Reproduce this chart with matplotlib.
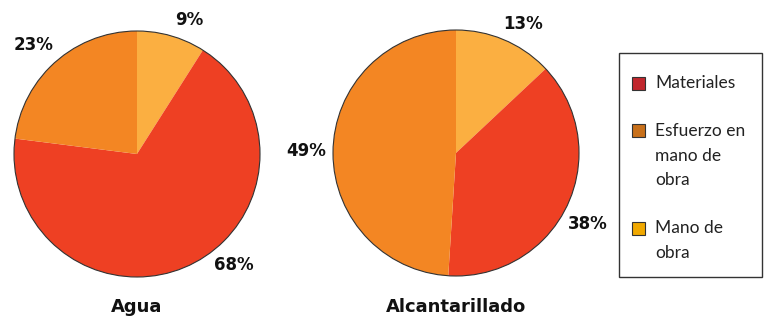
import numpy as np
import matplotlib
matplotlib.use("Agg")
from matplotlib import pyplot as plt
from matplotlib.patches import Rectangle, Circle

# data (order: Mano de obra, Materiales, Esfuerzo en mano de obra), clockwise from top
categorias = ["Mano de obra", "Materiales", "Esfuerzo en mano de obra"]
agua = [9, 68, 23]
alcantarillado = [13, 38, 49]
titulos = ["Agua", "Alcantarillado"]

colores_pie = ["#FBAF41", "#EE4023", "#F38623"]
leyenda = ["Materiales", "Esfuerzo en\nmano de\nobra", "Mano de\nobra"]
colores_leyenda = ["#C1272D", "#C8701A", "#F0A800"]

W, H = 768, 322
fig = plt.figure(figsize=(W / 100, H / 100), dpi=100)
fig.patch.set_facecolor("white")

r = 123
centros = [(137, 154), (456, 153)]
# label placement tweaks (angle offset deg, distance in radii) per slice
ajustes = [[(-5, 1.17), (16, 1.2), (2, 1.22)],
           [(-4, 1.18), (-3, 1.22), (1, 1.22)]]

for (cx, cy), vals, titulo, adj in zip(centros, [agua, alcantarillado], titulos, ajustes):
    ax = fig.add_axes([(cx - r) / W, (H - cy - r) / H, 2 * r / W, 2 * r / H])
    wedges, _ = ax.pie(vals, colors=colores_pie, startangle=90, counterclock=False,
                       radius=1, wedgeprops=dict(linewidth=0))
    ax.add_patch(Circle((0, 0), 1, fill=False, edgecolor="#333333", linewidth=0.8, clip_on=False))
    for w, v, (da, dist) in zip(wedges, vals, adj):
        mid = np.deg2rad((w.theta1 + w.theta2) / 2 + da)
        ax.text(dist * np.cos(mid), dist * np.sin(mid), f"{v}%", ha="center", va="center",
                fontsize=12, fontweight="bold", family="DejaVu Sans", color="#111111")
    ax.set_xlim(-1, 1)
    ax.set_ylim(-1, 1)
    ax.set_aspect("equal")
    ax.axis("off")
    fig.text(cx / W, (H - 307) / H, titulo, ha="center", va="center",
             fontsize=13, fontweight="bold", family="DejaVu Sans", color="#111111")

# legend box drawn by hand so the squares line up with the first text line
fig.patches.append(Rectangle((619 / W, (H - 277) / H), 143 / W, 224 / H, transform=fig.transFigure,
                             fill=False, edgecolor="#333333", linewidth=1))
line_h = 24.5
gap = 23.5
y = 83
for lab, col in zip(leyenda, colores_leyenda):
    fig.patches.append(Rectangle((632 / W, (H - y - 6.5) / H), 13 / W, 13 / H, transform=fig.transFigure,
                                 facecolor=col, edgecolor="#333333", linewidth=0.8))
    for k, linea in enumerate(lab.split("\n")):
        fig.text(655 / W, (H - y - k * line_h) / H, linea, ha="left", va="center",
                 fontsize=12.5, family="Lato", color="#222222")
    y += len(lab.split("\n")) * line_h + gap

fig.savefig("out.png", dpi=100)
